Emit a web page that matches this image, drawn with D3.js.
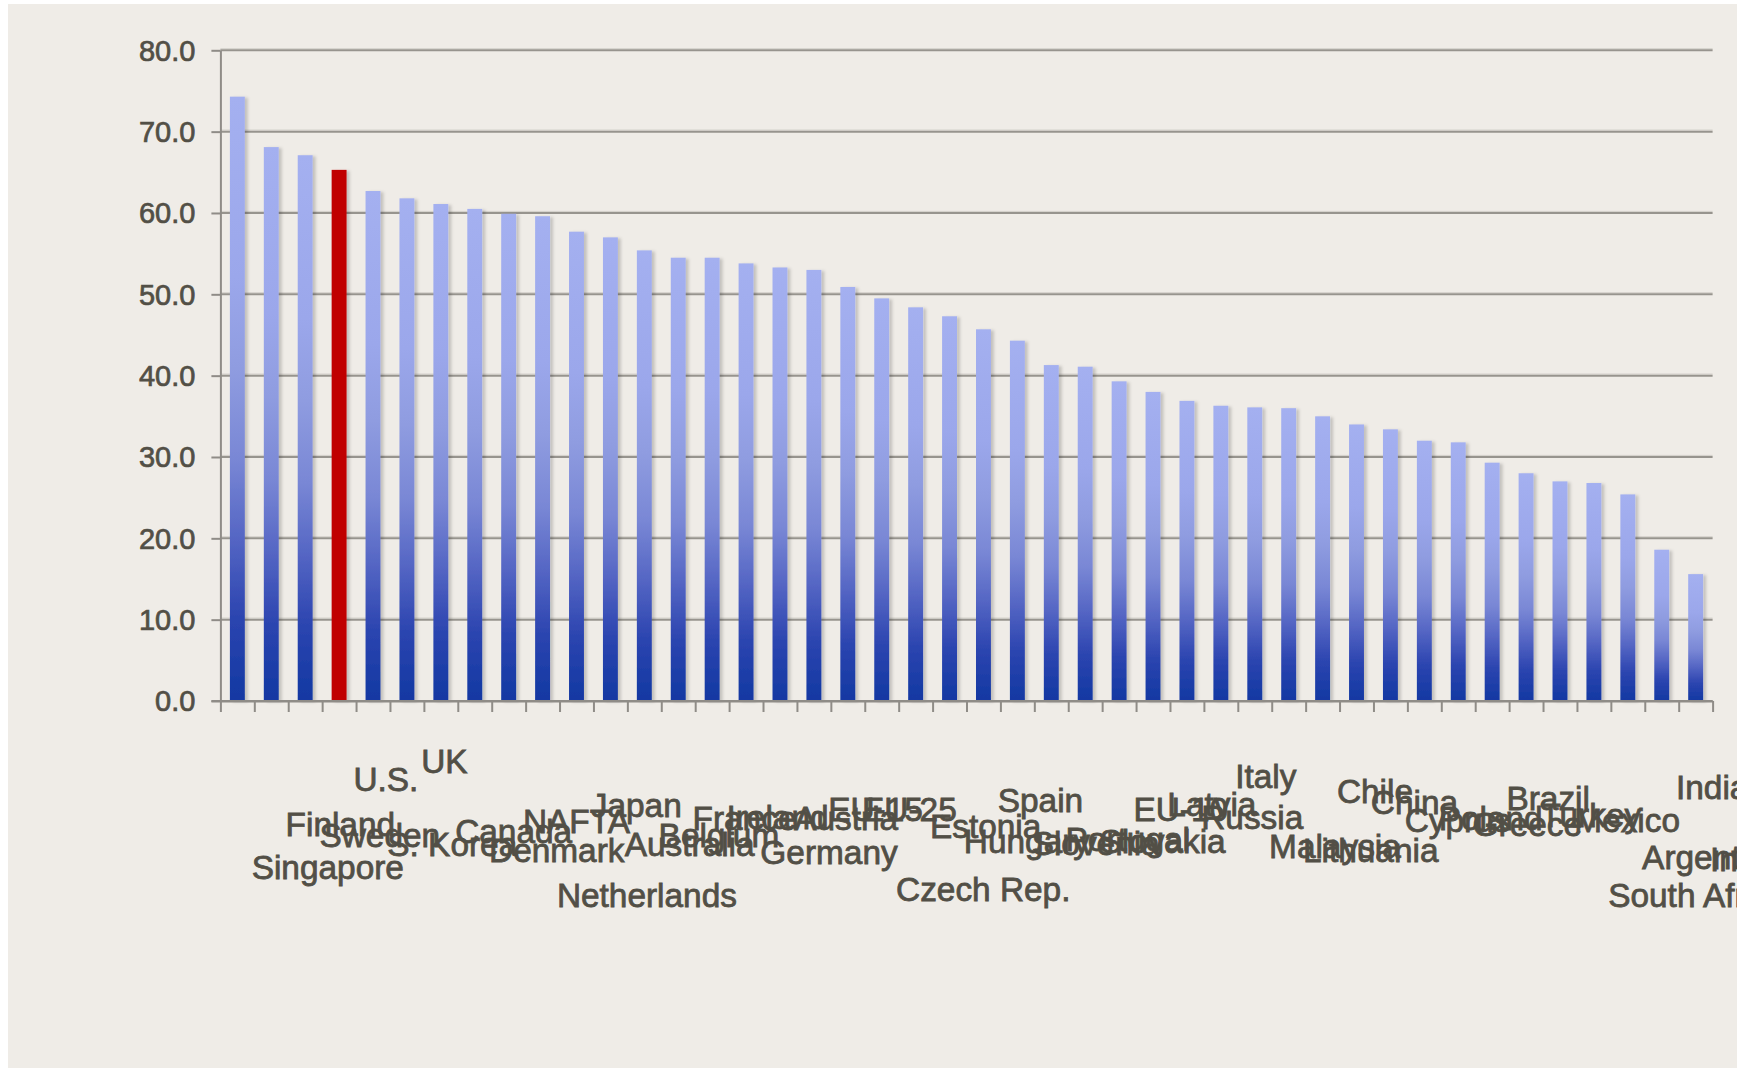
<!DOCTYPE html>
<html>
<head>
<meta charset="utf-8">
<script src="https://cdn.jsdelivr.net/npm/d3@7"></script>
<style>
  html, body { margin: 0; padding: 0; background: #ffffff; }
  svg { display: block; }
  text { font-family: "Liberation Sans", Arial, sans-serif; fill: #524f46; }
</style>
</head>
<body>
<svg id="chart" width="1750" height="1069"></svg>
<script>
// Categories in ranked order, with their values
const categories = [
  "Singapore", "Finland", "Sweden", "U.S.", "S. Korea", "UK", "Canada", "Denmark",
  "NAFTA", "Netherlands", "Japan", "Australia", "Belgium", "France", "Ireland", "Germany",
  "Austria", "EU-15", "EU-25", "Czech Rep.", "Estonia", "Hungary", "Spain", "Slovenia",
  "Portugal", "Slovakia", "EU-10", "Latvia", "Russia", "Italy", "Malaysia", "Lithuania",
  "Chile", "China", "Cyprus", "Poland", "Greece", "Brazil", "Turkey", "Mexico",
  "South Africa", "Argentina", "India", "Indonesia"
];
const values = [
  74.3, 68.1, 67.1, 65.3, 62.7, 61.8, 61.1, 60.5,
  59.9, 59.6, 57.7, 57.0, 55.4, 54.5, 54.5, 53.8,
  53.3, 53.0, 50.9, 49.5, 48.4, 47.3, 45.7, 44.3,
  41.3, 41.1, 39.3, 38.0, 36.9, 36.3, 36.1, 36.0,
  35.0, 34.0, 33.4, 32.0, 31.8, 29.3, 28.0, 27.0,
  26.8, 25.4, 18.6, 15.6
];
const highlighted = ["U.S."];
const yTicks = [0, 10, 20, 30, 40, 50, 60, 70, 80];

const data = categories.map((c, i) => ({ name: c, value: values[i] }));

const svg = d3.select("#chart");
const W = 1750, H = 1069;

// Panel geometry
const panel = { x: 8, y: 4, w: 1729, h: 1064 };
const plot = { left: 220.4, right: 1712.6, top: 50.3, bottom: 701 };
const textColor = "#524f46";

const defs = svg.append("defs");

// Vertical gradient used by every standard bar
const grad = defs.append("linearGradient")
  .attr("id", "barFill").attr("x1", 0).attr("y1", 0).attr("x2", 0).attr("y2", 1);
[[0, "#a4b0f0"], [0.3, "#9ba7eb"], [0.45, "#8f9ce0"], [0.6, "#7987d5"],
 [0.73, "#5566c4"], [0.86, "#2c45b0"], [1, "#1238a2"]]
  .forEach(([o, c]) => grad.append("stop").attr("offset", o).attr("stop-color", c));

// Soft shadow to the right of each bar
const shadow = defs.append("filter").attr("id", "barShadow")
  .attr("x", "-50%").attr("y", "-5%").attr("width", "200%").attr("height", "110%");
shadow.append("feDropShadow").attr("dx", 3).attr("dy", 1)
  .attr("stdDeviation", 1.6).attr("flood-color", "#000").attr("flood-opacity", 0.18);

defs.append("clipPath").attr("id", "panelClip")
  .append("rect").attr("x", panel.x).attr("y", panel.y)
  .attr("width", panel.w).attr("height", panel.h);

// Background
svg.append("rect").attr("width", W).attr("height", H).attr("fill", "#ffffff");
svg.append("rect").attr("x", panel.x).attr("y", panel.y)
  .attr("width", panel.w).attr("height", panel.h).attr("fill", "#efece7");

const root = svg.append("g").attr("clip-path", "url(#panelClip)");

// Scales
const x = d3.scaleBand().domain(categories).range([plot.left, plot.right]).padding(0);
const y = d3.scaleLinear().domain([0, 80]).range([plot.bottom, plot.top]);
const barW = x.bandwidth() * 0.44;

// Horizontal gridlines (behind bars)
const grid = root.append("g");
grid.selectAll("line.hi").data(yTicks.filter(t => t > 0)).join("line")
  .attr("x1", plot.left).attr("x2", plot.right)
  .attr("y1", d => y(d) - 1.6).attr("y2", d => y(d) - 1.6)
  .attr("stroke", "#d2cfc9").attr("stroke-width", 1);
grid.selectAll("line.main").data(yTicks.filter(t => t > 0)).join("line")
  .attr("x1", plot.left).attr("x2", plot.right)
  .attr("y1", d => y(d)).attr("y2", d => y(d))
  .attr("stroke", "#97948e").attr("stroke-width", 2);

// Bars
root.append("g").selectAll("rect").data(data).join("rect")
  .attr("x", d => x(d.name) + (x.bandwidth() - barW) / 2)
  .attr("y", d => y(d.value))
  .attr("width", barW)
  .attr("height", d => y(0) - y(d.value))
  .attr("fill", d => highlighted.includes(d.name) ? "#c00000" : "url(#barFill)")
  .attr("filter", "url(#barShadow)");

// Y axis
const yAxis = root.append("g")
  .attr("transform", `translate(${plot.left},0)`)
  .call(d3.axisLeft(y).tickValues(yTicks).tickFormat(d3.format(".1f"))
    .tickSize(9).tickSizeOuter(0).tickPadding(16));
yAxis.select(".domain").attr("stroke", "#8f8c87").attr("stroke-width", 2);
yAxis.selectAll(".tick line").attr("stroke", "#8f8c87").attr("stroke-width", 2);
yAxis.selectAll(".tick text")
  .attr("font-size", 29).attr("fill", textColor).attr("dy", "0.34em")
  .attr("stroke", textColor).attr("stroke-width", 0.7)
  .style("font-family", '"Liberation Sans", Arial, sans-serif');

// X axis: tick marks on category boundaries
const xEdges = d3.scaleLinear().domain([0, categories.length]).range([plot.left, plot.right]);
const xAxis = root.append("g")
  .attr("transform", `translate(0,${plot.bottom})`)
  .call(d3.axisBottom(xEdges).tickValues(d3.range(categories.length + 1))
    .tickFormat("").tickSize(11).tickSizeOuter(0));
xAxis.select(".domain").attr("stroke", "#8f8c87").attr("stroke-width", 2);
xAxis.selectAll(".tick line").attr("stroke", "#8f8c87").attr("stroke-width", 2);
root.append("line").attr("x1", plot.left - 9).attr("x2", plot.right)
  .attr("y1", plot.bottom).attr("y2", plot.bottom)
  .attr("stroke", "#8f8c87").attr("stroke-width", 2);

// Category labels: set to the right of each bar, dropping lower as the name gets longer
const labelTop = 726.5;
const labels = root.append("g").selectAll("text").data(data).join("text")
  .attr("x", d => x(d.name) + x.bandwidth() / 2 + 14.3)
  .attr("font-size", 33.4)
  .attr("text-anchor", "start")
  .attr("fill", textColor)
  .attr("stroke", textColor).attr("stroke-width", 0.8)
  .text(d => d.name);
labels.attr("y", function () { return labelTop + this.getComputedTextLength(); });
</script>
</body>
</html>
